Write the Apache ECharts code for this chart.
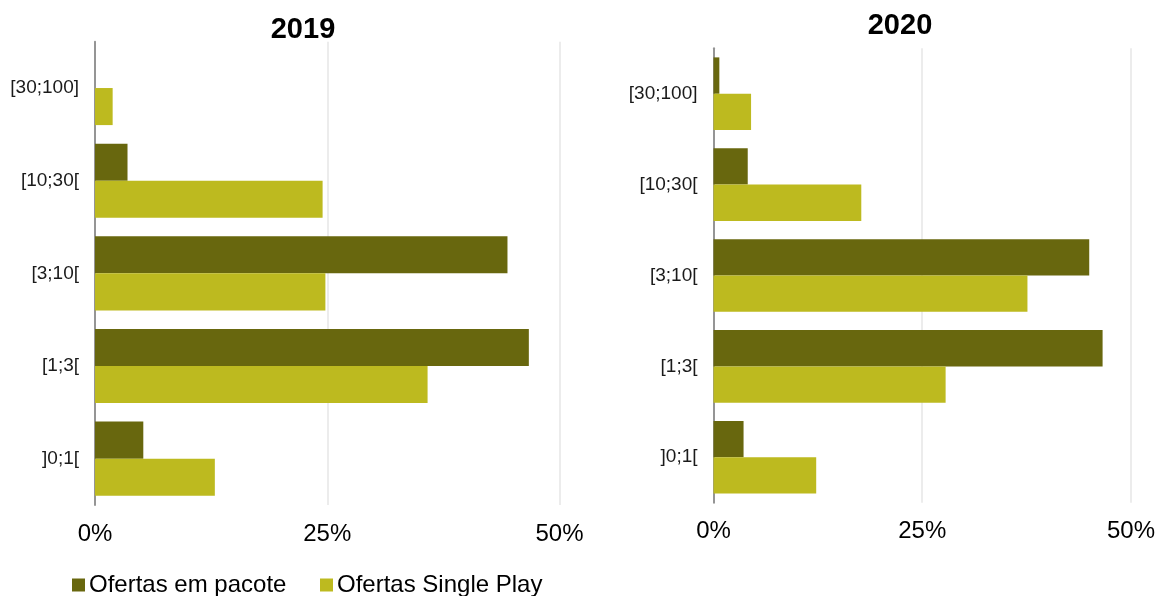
<!DOCTYPE html>
<html>
<head>
<meta charset="utf-8">
<script src="https://cdn.jsdelivr.net/npm/echarts@6/dist/echarts.min.js"></script>
<style>
  html, body { margin: 0; padding: 0; background: #fff; }
  #chart { width: 1158px; height: 596px; }
</style>
</head>
<body>
<div id="chart"></div>
<script>
// Price bands (bottom to top) and the share of offers in each band, in %
const categories = [']0;1[', '[1;3[', '[3;10[', '[10;30[', '[30;100]'];
const years = ['2019', '2020'];
const seriesNames = ['Ofertas em pacote', 'Ofertas Single Play'];
const pacote2019 = [5.2, 46.7, 44.4, 3.5, 0];
const single2019 = [12.9, 35.8, 24.8, 24.5, 1.9];
const pacote2020 = [3.6, 46.6, 45.0, 4.1, 0.7];
const single2020 = [12.3, 27.8, 37.6, 17.7, 4.5];
const xTicks = [0, 25, 50];

const FONT = "'Liberation Sans', Arial, sans-serif";
const DARK = '#68670e';
const LIGHT = '#bdba1f';

function xAxisFor(gridIndex) {
  return {
    type: 'value', gridIndex: gridIndex,
    min: xTicks[0], max: xTicks[xTicks.length - 1], interval: xTicks[1] - xTicks[0],
    axisLine: { show: false }, axisTick: { show: false },
    axisLabel: { formatter: '{value}%', fontFamily: FONT, fontSize: 24, color: '#000', margin: 17 },
    splitLine: { lineStyle: { color: '#ececec', width: 2 } }
  };
}
function yAxisFor(gridIndex) {
  return {
    type: 'category', gridIndex: gridIndex, data: categories,
    axisLine: { lineStyle: { color: '#959595', width: 2 } },
    axisTick: { show: false },
    axisLabel: { fontFamily: FONT, fontSize: 19, color: '#1a1a1a', margin: 16 }
  };
}
function barSeries(name, data, color, idx) {
  return {
    type: 'bar', name: name, data: data,
    xAxisIndex: idx, yAxisIndex: idx,
    barGap: '0%', barCategoryGap: '20%',
    itemStyle: { color: color },
    emphasis: { disabled: true }
  };
}
function legendFor(name, left) {
  return {
    data: [name], left: left, top: 573, padding: 0,
    itemWidth: 13, itemHeight: 13, icon: 'rect', selectedMode: false,
    textStyle: { fontFamily: FONT, fontSize: 24, color: '#000', padding: [0, 0, 0, -1] }
  };
}
function titleFor(text, cx, top) {
  return {
    text: text, left: cx, top: top, textAlign: 'center', padding: 0,
    textStyle: { fontFamily: FONT, fontSize: 29, fontWeight: 'bold', color: '#000' }
  };
}

const chart = echarts.init(document.getElementById('chart'), null, { renderer: 'canvas' });
chart.setOption({
  animation: false,
  backgroundColor: '#fff',
  title: [titleFor(years[0], 303, 15), titleFor(years[1], 900, 11)],
  legend: [legendFor(seriesNames[0], 72), legendFor(seriesNames[1], 320)],
  grid: [
    { left: 95, right: 598.5, top: 41.7, bottom: 91 },
    { left: 713.5, right: 26.5, top: 48.3, bottom: 93.3 }
  ],
  xAxis: [xAxisFor(0), xAxisFor(1)],
  yAxis: [yAxisFor(0), yAxisFor(1)],
  series: [
    barSeries(seriesNames[0], pacote2019, DARK, 0),
    barSeries(seriesNames[1], single2019, LIGHT, 0),
    barSeries(seriesNames[0], pacote2020, DARK, 1),
    barSeries(seriesNames[1], single2020, LIGHT, 1)
  ]
});
</script>
</body>
</html>
